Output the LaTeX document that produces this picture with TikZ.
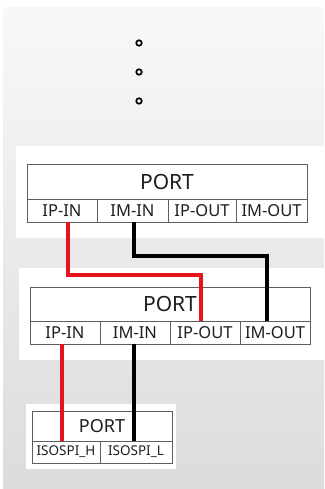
\documentclass[tikz,border=0pt]{standalone}
\usepackage{fontspec}
\setmainfont{Noto Sans}
\usetikzlibrary{positioning}
\definecolor{wirered}{HTML}{E8141B}
\definecolor{cellline}{HTML}{5E5E5E}
\definecolor{bgtop}{HTML}{F8F8F8}
\definecolor{bgbottom}{HTML}{DCDCDC}
\definecolor{inktext}{HTML}{1E1E1E}

\begin{document}
\begin{tikzpicture}[x=1pt, y=-1pt]
\tikzset{cell/.style={draw=cellline, line width=1pt, rectangle, inner sep=0, outer sep=0, text=inktext},
  title/.style={cell, anchor=north west, font=\fontsize{21}{21}\selectfont},
  pin/.style={cell, minimum height=23pt, font=\fontsize{16.5}{17}\selectfont},
  smalltitle/.style={cell, anchor=north west, font=\fontsize{18}{18}\selectfont},
  smallpin/.style={cell, minimum height=22pt, font=\fontsize{13.5}{14}\selectfont},
  dot/.style={circle, draw=black, fill=white, line width=1.7pt, inner sep=0, minimum size=5.5pt},
  wire/.style={line width=3.4pt}}
\useasboundingbox (0,0) rectangle (324,489);

% background panels
\shade[top color=bgtop, bottom color=bgbottom] (3,8) rectangle (324,489);
\fill[white] (16,146) rectangle (324,238);
\fill[white] (19,268) rectangle (324,360);
\fill[white] (26,404) rectangle (176,469);

\foreach \y [count=\i] in {43,72,101}
  \node[dot] (dot\i) at (139,\y) {};

% upper port
\node[title, minimum width=280pt, minimum height=35pt] (port1) at (27,164) {PORT};
\node[pin, minimum width=70pt, anchor=north west] (p1ipin) at (port1.south west) {IP-IN};
\node[pin, minimum width=71pt, right=0pt of p1ipin] (p1imin) {IM-IN};
\node[pin, minimum width=68pt, right=0pt of p1imin] (p1ipout) {IP-OUT};
\node[pin, minimum width=71pt, right=0pt of p1ipout] (p1imout) {IM-OUT};

% middle port
\node[title, minimum width=280pt, minimum height=34pt] (port2) at (30,287) {PORT};
\node[pin, minimum width=70pt, anchor=north west] (p2ipin) at (port2.south west) {IP-IN};
\node[pin, minimum width=70pt, right=0pt of p2ipin] (p2imin) {IM-IN};
\node[pin, minimum width=70pt, right=0pt of p2imin] (p2ipout) {IP-OUT};
\node[pin, minimum width=70pt, right=0pt of p2ipout] (p2imout) {IM-OUT};

% isospi port
\node[smalltitle, minimum width=140pt, minimum height=30pt] (port3) at (32,411) {PORT};
\node[smallpin, minimum width=68pt, anchor=north west] (p3h) at (port3.south west) {ISOSPI\_H};
\node[smallpin, minimum width=72pt, right=0pt of p3h] (p3l) {ISOSPI\_L};

% wires
\draw[wire, wirered] ([xshift=6pt]p1ipin.south) -- ++(0,53) -| ([xshift=-4pt]p2ipout.north);
\draw[wire, black] ([xshift=1.5pt]p1imin.south) -- ++(0,34) -| ([xshift=-8pt]p2imout.north);
\draw[wire, wirered] ([xshift=-3pt]p2ipin.south) -- ([xshift=-3pt]p2ipin.south |- p3h.north);
\draw[wire, black] ([xshift=-1pt]p2imin.south) -- ([xshift=-1pt]p2imin.south |- p3l.north);

\end{tikzpicture}
\end{document}
